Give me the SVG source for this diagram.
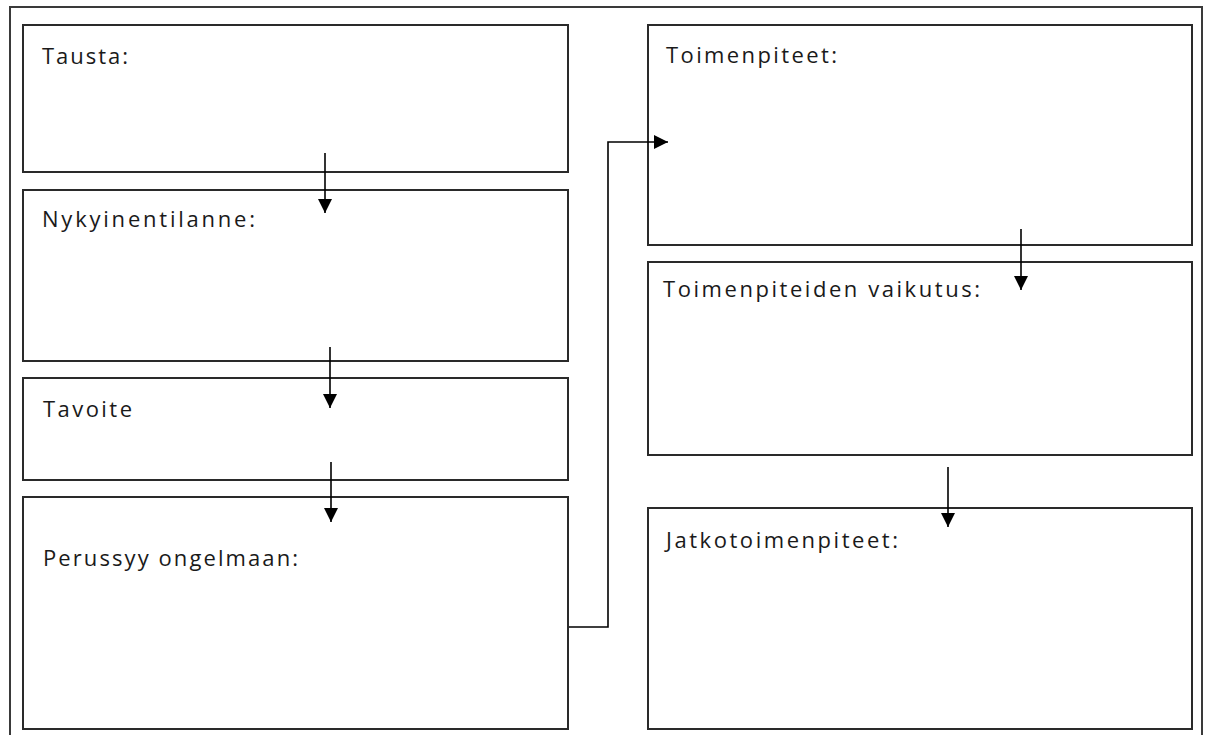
<svg xmlns="http://www.w3.org/2000/svg" width="1207" height="735" viewBox="0 0 1207 735">
<style>
.frame{fill:none;stroke:#3a3a3a;stroke-width:2}
.box{fill:#fff;stroke:#2a2a2a;stroke-width:2}
.lbl{font-family:"Open Sans","Liberation Sans",Arial,sans-serif;font-size:22px;fill:#1a1a1a}
.conn{fill:none;stroke:#000;stroke-width:1.6}
</style>
<defs>
<marker id="ah" markerUnits="userSpaceOnUse" markerWidth="16" markerHeight="14" refX="14" refY="7" orient="auto">
<path d="M0,0 L14,7 L0,14 z" fill="#000"/>
</marker>
</defs>
<rect width="1207" height="735" fill="#fff"/>
<rect class="frame" x="10" y="7" width="1192" height="740"/>
<g id="n-tausta"><rect class="box" x="23" y="25" width="545" height="147"/><text class="lbl" x="42" y="64" textLength="86" lengthAdjust="spacing">Tausta:</text></g>
<g id="n-nykyinen"><rect class="box" x="23" y="190" width="545" height="171"/><text class="lbl" x="42" y="227" textLength="213" lengthAdjust="spacing">Nykyinentilanne:</text></g>
<g id="n-tavoite"><rect class="box" x="23" y="378" width="545" height="102"/><text class="lbl" x="43" y="417" textLength="89" lengthAdjust="spacing">Tavoite</text></g>
<g id="n-perussyy"><rect class="box" x="23" y="497" width="545" height="232"/><text class="lbl" x="43" y="566" textLength="255" lengthAdjust="spacing">Perussyy ongelmaan:</text></g>
<g id="n-toimenpiteet"><rect class="box" x="648" y="25" width="544" height="220"/><text class="lbl" x="666" y="63" textLength="171" lengthAdjust="spacing">Toimenpiteet:</text></g>
<g id="n-vaikutus"><rect class="box" x="648" y="262" width="544" height="193"/><text class="lbl" x="663" y="297" textLength="317" lengthAdjust="spacing">Toimenpiteiden vaikutus:</text></g>
<g id="n-jatko"><rect class="box" x="648" y="508" width="544" height="221"/><text class="lbl" x="666" y="548" textLength="232" lengthAdjust="spacing">Jatkotoimenpiteet:</text></g>
<g id="connectors">
<line class="conn" x1="325" y1="153" x2="325" y2="213" marker-end="url(#ah)"/>
<line class="conn" x1="330" y1="347" x2="330" y2="408" marker-end="url(#ah)"/>
<line class="conn" x1="331" y1="462" x2="331" y2="522" marker-end="url(#ah)"/>
<line class="conn" x1="1021" y1="229" x2="1021" y2="290" marker-end="url(#ah)"/>
<line class="conn" x1="948" y1="467" x2="948" y2="527" marker-end="url(#ah)"/>
<path class="conn" d="M569,627 H608 V142 H668" marker-end="url(#ah)"/>
</g>
</svg>
